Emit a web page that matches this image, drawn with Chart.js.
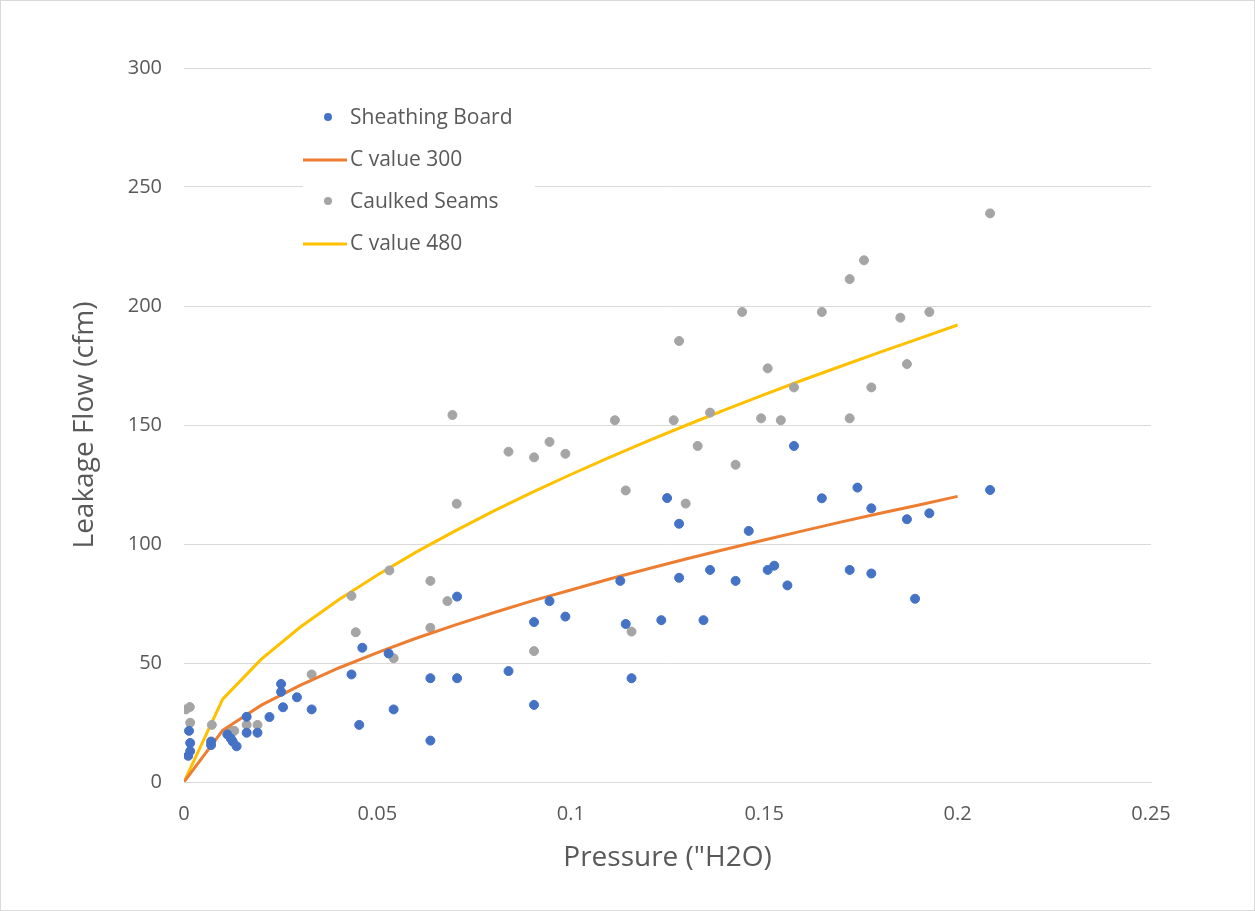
<!DOCTYPE html>
<html>
<head>
<meta charset="utf-8">
<script src="https://cdn.jsdelivr.net/npm/chart.js@4/dist/chart.umd.min.js"></script>
<style>
  html, body { margin: 0; padding: 0; background: #fff; }
  #wrap { position: relative; width: 1253px; height: 909px; border: 1px solid #d9d9d9; }
</style>
</head>
<body>
<div id="wrap"><canvas id="myChart" width="1253" height="909"></canvas></div>
<script>
// Sheathing Board measurements
const sheathX = [0.0013, 0.0016, 0.0016, 0.0011, 0.007, 0.007, 0.0112, 0.0121, 0.0126, 0.0136, 0.0162, 0.0162, 0.019, 0.0221,
  0.0251, 0.0251, 0.0256, 0.0292, 0.033, 0.0433, 0.0461, 0.0453, 0.0529, 0.0542, 0.0637, 0.0637, 0.0706, 0.0706, 0.0839,
  0.0905, 0.0905, 0.0945, 0.0986, 0.1128, 0.1142, 0.1157, 0.1234, 0.1249, 0.128, 0.128, 0.1343, 0.136, 0.1426, 0.146,
  0.1509, 0.1526, 0.156, 0.1577, 0.1649, 0.1741, 0.1721, 0.1777, 0.1777, 0.1869, 0.189, 0.1927, 0.2084];
const sheathY = [21.5, 16.4, 13, 11, 15.5, 17, 20, 18.3, 17, 15, 27.4, 20.7, 20.7, 27.3,
  41.2, 37.9, 31.4, 35.6, 30.5, 45.2, 56.4, 24, 54, 30.5, 43.6, 17.4, 77.9, 43.6, 46.6,
  67.2, 32.4, 76, 69.5, 84.5, 66.4, 43.6, 68, 119.3, 108.5, 85.8, 68, 89.1, 84.5, 105.5,
  89.1, 90.9, 82.6, 141.2, 119.2, 123.7, 89.1, 115, 87.6, 110.4, 77, 112.9, 122.7];

// Caulked Seams measurements
const caulkX = [0.0005, 0.0015, 0.0016, 0.0072, 0.0119, 0.013, 0.0162, 0.019, 0.033, 0.0433, 0.0444, 0.0694, 0.0839,
  0.0905, 0.0945, 0.0986, 0.0705, 0.0531, 0.0637, 0.0681, 0.0637, 0.0542, 0.0905, 0.1114, 0.1142, 0.1157, 0.1266,
  0.128, 0.1297, 0.1328, 0.136, 0.1426, 0.1443, 0.1492, 0.1509, 0.1543, 0.1577, 0.1649, 0.1721, 0.1758, 0.1721,
  0.1777, 0.1852, 0.1869, 0.1927, 0.2084];
const caulkY = [30.5, 31.5, 24.9, 24, 21.6, 21.5, 24, 24, 45.2, 78.2, 62.9, 154.2, 138.8,
  136.4, 142.9, 137.9, 116.9, 88.9, 84.5, 76, 64.8, 52, 55, 152, 122.5, 63.2, 152,
  185.3, 117, 141.2, 155.2, 133.3, 197.5, 152.8, 173.8, 152, 165.8, 197.5, 211.3, 219.2, 152.8,
  165.8, 195.1, 175.6, 197.5, 238.9];

// model curves
const curveX = [0, 0.01, 0.02, 0.03, 0.04, 0.05, 0.06, 0.07, 0.08, 0.09, 0.1, 0.11, 0.12, 0.13, 0.14, 0.15, 0.16, 0.17, 0.18, 0.19, 0.2];
const c300Y = [0, 21.7, 32.3, 40.6, 47.9, 54.4, 60.4, 65.9, 71.1, 76.1, 80.7, 85.3, 89.6, 93.8, 97.8, 101.7, 105.5, 109.3, 112.9, 116.4, 120];
const c480Y = [0, 34.8, 51.6, 65, 76.6, 87, 96.6, 105.4, 113.8, 121.7, 129.2, 136.4, 143.3, 150, 156.5, 162.8, 168.9, 174.8, 180.6, 186.3, 192];

const xTicks = [0, 0.05, 0.1, 0.15, 0.2, 0.25];
const xTickLabels = ['0', '0.05', '0.1', '0.15', '0.2', '0.25'];
const yTicks = [0, 50, 100, 150, 200, 250, 300];

function toPoints(xs, ys) {
  return xs.map((x, i) => ({ x: x, y: ys[i] }));
}

const FONT = "'Open Sans', 'Liberation Sans', sans-serif";
const TXT = '#595959';

// legend drawn inside the plot, on a white box
const insideLegend = {
  id: 'insideLegend',
  afterDraw(chart) {
    const ctx = chart.ctx;
    const sets = chart.data.datasets;
    ctx.save();
    ctx.fillStyle = '#fff';
    ctx.fillRect(302, 95, 232, 170);
    ctx.font = '21px ' + FONT;
    ctx.textBaseline = 'middle';
    sets.forEach((ds, i) => {
      const y = 116 + i * 42;
      if (ds.showLine) {
        ctx.strokeStyle = ds.borderColor;
        ctx.lineWidth = 3;
        ctx.beginPath();
        ctx.moveTo(302, y + 1);
        ctx.lineTo(346, y + 1);
        ctx.stroke();
      } else {
        ctx.fillStyle = ds.backgroundColor;
        ctx.beginPath();
        ctx.arc(327, y, 4, 0, Math.PI * 2);
        ctx.fill();
      }
      ctx.fillStyle = TXT;
      ctx.fillText(ds.label, 349, y + 1);
    });
    ctx.restore();
  }
};

const ctx = document.getElementById('myChart').getContext('2d');
new Chart(ctx, {
  type: 'scatter',
  data: {
    datasets: [
      { label: 'Sheathing Board', data: toPoints(sheathX, sheathY), backgroundColor: '#4472C4', borderColor: '#4472C4', pointRadius: 4.5, showLine: false },
      { label: 'C value 300', data: toPoints(curveX, c300Y), borderColor: '#ED7D31', backgroundColor: '#ED7D31', borderWidth: 3, pointRadius: 0, showLine: true },
      { label: 'Caulked Seams', data: toPoints(caulkX, caulkY), backgroundColor: '#A5A5A5', borderColor: '#A5A5A5', pointRadius: 4.5, showLine: false },
      { label: 'C value 480', data: toPoints(curveX, c480Y), borderColor: '#FFC000', backgroundColor: '#FFC000', borderWidth: 3, pointRadius: 0, showLine: true }
    ]
  },
  options: {
    responsive: false,
    animation: false,
    layout: { padding: { left: 0, top: 67, right: 103, bottom: 0 } },
    plugins: { legend: { display: false }, tooltip: { enabled: false } },
    scales: {
      x: {
        type: 'linear', min: 0, max: 0.25,
        afterFit: (s) => { s.height = 128; },
        afterBuildTicks: (s) => { s.ticks = xTicks.map(v => ({ value: v })); },
        grid: { display: false, drawTicks: false },
        border: { color: '#d9d9d9', width: 1 },
        ticks: {
          color: TXT, font: { family: FONT, size: 20 }, padding: 20,
          callback: (v) => xTickLabels[xTicks.indexOf(v)]
        },
        title: { display: true, text: 'Pressure ("H2O)', color: TXT, font: { family: FONT, size: 28 }, padding: { top: 0, bottom: 35 } }
      },
      y: {
        type: 'linear', min: 0, max: 300,
        afterFit: (s) => { s.width = 183; },
        afterBuildTicks: (s) => { s.ticks = yTicks.map(v => ({ value: v })); },
        grid: { color: '#d9d9d9', drawTicks: false },
        border: { display: false },
        ticks: { color: TXT, font: { family: FONT, size: 20 }, padding: 22 },
        title: { display: true, text: 'Leakage Flow (cfm)', color: TXT, font: { family: FONT, size: 28 }, padding: { top: 67, bottom: 0 } }
      }
    }
  },
  plugins: [insideLegend]
});
</script>
</body>
</html>
